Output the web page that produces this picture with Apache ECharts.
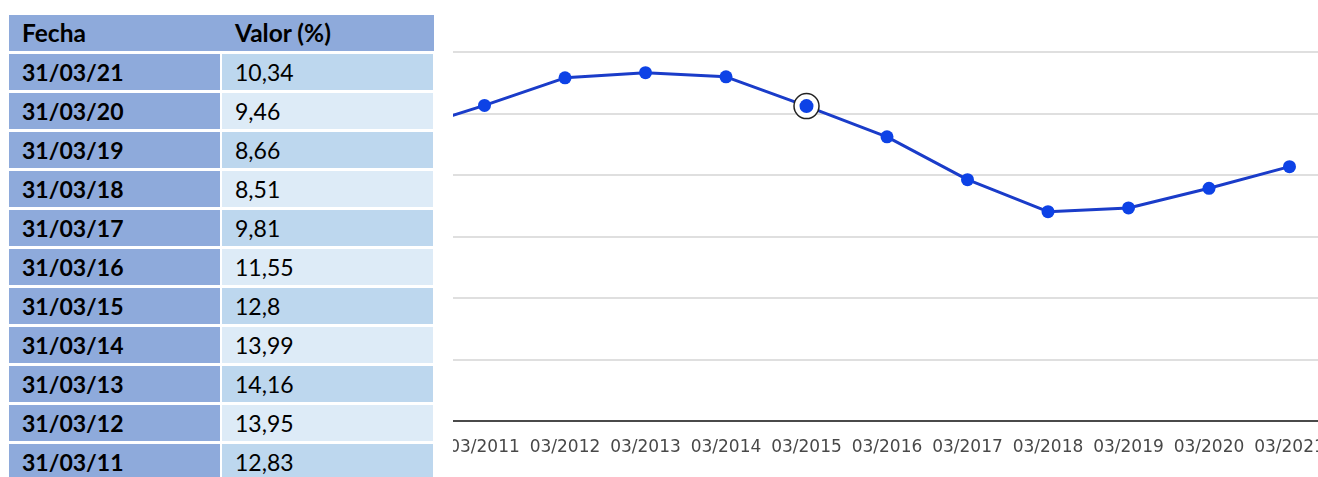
<!DOCTYPE html>
<html>
<head>
<meta charset="utf-8">
<script src="https://cdn.jsdelivr.net/npm/echarts@6/dist/echarts.min.js"></script>
<style>
  html, body { margin: 0; padding: 0; background: #fff; }
  body { width: 1318px; height: 477px; overflow: hidden; position: relative; }
  #table { position: absolute; left: 9px; top: 15px; width: 424px; }
  .cell { position: absolute; height: 36px; line-height: 36px; font-family: Lato, "Open Sans", sans-serif; font-size: 23px; color: #000; box-sizing: border-box; padding-left: 13px; white-space: nowrap; }
  .hdr { background: #8eaadb; font-weight: bold; font-size: 24.5px; }
  .date { background: #8eaadb; font-weight: bold; }
  .odd { background: #bdd7ee; }
  .even { background: #ddebf7; }
  #wrap { position: absolute; left: 453px; top: 0; width: 865px; height: 477px; overflow: hidden; }
  #chart { position: absolute; left: -49px; top: 0; width: 966px; height: 477px; }
</style>
</head>
<body>
<div id="table"></div>
<div id="wrap"><div id="chart"></div></div>
<script>
// ---- data ----
var headers = ['Fecha', 'Valor (%)'];
// years shown in the chart (2010 only appears as the clipped start of the line)
var years = [2010, 2011, 2012, 2013, 2014, 2015, 2016, 2017, 2018, 2019, 2020, 2021];
var values = [11.8, 12.83, 13.95, 14.16, 13.99, 12.8, 11.55, 9.81, 8.51, 8.66, 9.46, 10.34];
// years listed in the table (newest first)
var tableYears = [2021, 2020, 2019, 2018, 2017, 2016, 2015, 2014, 2013, 2012, 2011];
var highlightYear = 2015;
var yTicks = [0, 2.5, 5, 7.5, 10, 12.5, 15];

// ---- table ----
(function () {
  var t = document.getElementById('table');
  var colW = 211, gap = 2, rowH = 36, rowGap = 3;
  function cell(txt, cls, x, y, w) {
    var d = document.createElement('div');
    d.className = 'cell ' + cls;
    d.style.left = x + 'px'; d.style.top = y + 'px'; d.style.width = w + 'px';
    d.textContent = txt;
    t.appendChild(d);
  }
  var hb = document.createElement('div');
  hb.className = 'cell hdr';
  hb.style.left = '0px'; hb.style.top = '0px'; hb.style.width = (colW * 2 + gap) + 'px';
  t.appendChild(hb);
  cell(headers[0], 'hdr', 0, 0, colW);
  cell(headers[1], 'hdr', colW + gap, 0, colW + 1);
  tableYears.forEach(function (yr, i) {
    var v = values[years.indexOf(yr)];
    var y = (i + 1) * (rowH + rowGap);
    var yy = String(yr).slice(2);
    cell('31/03/' + yy, 'date', 0, y, colW);
    cell(String(v).replace('.', ','), i % 2 === 0 ? 'odd' : 'even', colW + gap, y, colW);
  });
})();

// ---- chart ----
var chart = echarts.init(document.getElementById('chart'), null, { renderer: 'canvas' });
var lineData = years.map(function (y, i) {
  return [y, values[i]];
});
var hv = values[years.indexOf(highlightYear)];
var lineColor = '#1a3cc9';
var dotColor = '#0d42e6';
chart.setOption({
  animation: false,
  grid: { left: 0, right: 0, top: 52, bottom: 56, outerBoundsMode: 'none' },
  xAxis: {
    type: 'value',
    min: 2010, max: 2022, interval: 1,
    axisLine: { show: true, lineStyle: { color: '#4a4a4a', width: 2 } },
    axisTick: { show: false },
    splitLine: { show: false },
    axisLabel: {
      margin: 18,
      color: '#484848',
      fontFamily: 'DejaVu Sans',
      fontSize: 17,
      formatter: function (v) { return '03/' + v; }
    }
  },
  yAxis: {
    type: 'value',
    min: yTicks[0], max: yTicks[yTicks.length - 1], interval: 2.5,
    axisLine: { show: false },
    axisTick: { show: false },
    axisLabel: { show: false },
    splitLine: { show: true, lineStyle: { color: '#d4d4d4', width: 1.5 } }
  },
  series: [
    {
      type: 'line',
      data: lineData,
      z: 2,
      symbol: 'circle',
      symbolSize: 13,
      lineStyle: { color: lineColor, width: 3 },
      itemStyle: { color: dotColor, opacity: 1 },
      clip: true
    },
    {
      type: 'scatter',
      z: 3,
      data: [[highlightYear, hv]],
      symbol: 'circle',
      symbolSize: 25,
      itemStyle: { color: '#ffffff', borderColor: '#222', borderWidth: 1.5, opacity: 1 }
    },
    {
      type: 'scatter',
      z: 4,
      data: [[highlightYear, hv]],
      symbol: 'circle',
      symbolSize: 14,
      itemStyle: { color: dotColor, opacity: 1 }
    }
  ]
});
</script>
</body>
</html>
